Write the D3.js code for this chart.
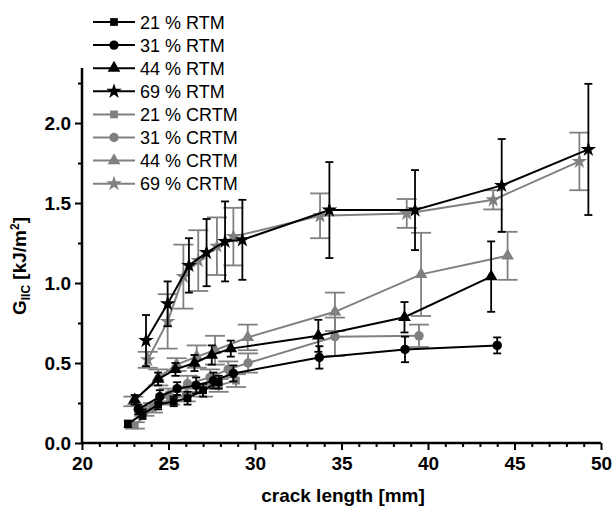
<!DOCTYPE html>
<html>
<head>
<meta charset="utf-8">
<script src="https://cdn.jsdelivr.net/npm/d3@7"></script>
<style>
  body { margin: 0; background: #fff; }
  svg { display: block; font-family: "Liberation Sans", Arial, sans-serif; }
</style>
</head>
<body>
<div id="chart"></div>
<script>
// crack length [mm], G_IIC [kJ/m2], error (+/-)
const rtm21x = [22.65, 23.5, 24.4, 25.3, 26.1, 27.0, 27.9]
const rtm21y = [0.12, 0.18, 0.24, 0.26, 0.28, 0.33, 0.38]
const rtm21e = [0.02, 0.03, 0.03, 0.03, 0.04, 0.04, 0.04]

const rtm31x = [23.25, 24.5, 25.5, 26.6, 27.6, 28.75, 33.72, 38.67, 44.0]
const rtm31y = [0.21, 0.29, 0.34, 0.36, 0.39, 0.435, 0.535, 0.585, 0.61]
const rtm31e = [0.03, 0.04, 0.04, 0.05, 0.05, 0.05, 0.07, 0.08, 0.05]

const rtm44x = [23.05, 24.4, 25.4, 26.5, 27.5, 28.6, 33.66, 38.64, 43.65]
const rtm44y = [0.27, 0.40, 0.46, 0.50, 0.55, 0.59, 0.67, 0.786, 1.04]
const rtm44e = [0.03, 0.04, 0.04, 0.05, 0.06, 0.05, 0.10, 0.095, 0.22]

const rtm69x = [23.7, 24.95, 26.18, 27.2, 28.27, 29.27, 34.3, 39.25, 44.26, 49.27]
const rtm69y = [0.64, 0.87, 1.11, 1.19, 1.26, 1.27, 1.456, 1.456, 1.61, 1.835]
const rtm69e = [0.16, 0.14, 0.17, 0.21, 0.25, 0.25, 0.30, 0.25, 0.29, 0.41]

const crtm21x = [23.05, 24.1, 25.1, 26.0, 27.0, 27.9, 28.9]
const crtm21y = [0.11, 0.22, 0.27, 0.30, 0.33, 0.36, 0.39]
const crtm21e = [0.02, 0.03, 0.03, 0.04, 0.04, 0.04, 0.04]

const crtm31x = [23.6, 25.0, 26.1, 27.4, 28.45, 29.6, 34.62, 39.48]
const crtm31y = [0.20, 0.30, 0.37, 0.41, 0.46, 0.50, 0.664, 0.67]
const crtm31e = [0.03, 0.04, 0.05, 0.05, 0.05, 0.06, 0.12, 0.07]

const crtm44x = [22.97, 24.41, 25.47, 26.63, 27.69, 29.58, 34.62, 39.6, 44.6]
const crtm44y = [0.26, 0.41, 0.49, 0.54, 0.58, 0.66, 0.82, 1.054, 1.17]
const crtm44e = [0.03, 0.05, 0.04, 0.07, 0.09, 0.08, 0.12, 0.26, 0.15]

const crtm69x = [23.8, 24.95, 25.86, 26.72, 27.8, 28.75, 33.76, 38.77, 43.77, 48.75]
const crtm69y = [0.52, 0.76, 1.04, 1.14, 1.23, 1.29, 1.42, 1.435, 1.52, 1.76]
const crtm69e = [0.05, 0.17, 0.20, 0.19, 0.18, 0.18, 0.14, 0.09, 0.06, 0.18]

const xTicks = [20, 25, 30, 35, 40, 45, 50]
const yTicks = [0.0, 0.5, 1.0, 1.5, 2.0]

const black = '#000000'
const grey = '#808080'

// legend order
const series = [
    {name: '21 % RTM', x: rtm21x, y: rtm21y, e: rtm21e, color: black, sym: d3.symbolSquare},
    {name: '31 % RTM', x: rtm31x, y: rtm31y, e: rtm31e, color: black, sym: d3.symbolCircle},
    {name: '44 % RTM', x: rtm44x, y: rtm44y, e: rtm44e, color: black, sym: d3.symbolTriangle},
    {name: '69 % RTM', x: rtm69x, y: rtm69y, e: rtm69e, color: black, sym: d3.symbolStar},
    {name: '21 % CRTM', x: crtm21x, y: crtm21y, e: crtm21e, color: grey, sym: d3.symbolSquare},
    {name: '31 % CRTM', x: crtm31x, y: crtm31y, e: crtm31e, color: grey, sym: d3.symbolCircle},
    {name: '44 % CRTM', x: crtm44x, y: crtm44y, e: crtm44e, color: grey, sym: d3.symbolTriangle},
    {name: '69 % CRTM', x: crtm69x, y: crtm69y, e: crtm69e, color: grey, sym: d3.symbolStar}
]

const width = 613, height = 511
const x = d3.scaleLinear().domain([20, 50]).range([82, 601])
const y = d3.scaleLinear().domain([0, 2.344]).range([443, 68])

const svg = d3.select('#chart').append('svg')
    .attr('width', width).attr('height', height)

function symbolPath(sym) {
    let s = 75
    if (sym === d3.symbolSquare) s = 60
    else if (sym === d3.symbolCircle) s = 70
    else if (sym === d3.symbolTriangle) s = 70
    return d3.symbol().type(sym).size(s)()
}

// draw CRTM (grey) first, RTM (black) on top
const drawOrder = series.slice(4).concat(series.slice(0, 4))
drawOrder.forEach(s => {
    const pts = s.x.map((v, i) => ({x: v, y: s.y[i], e: s.e[i]}))
    const g = svg.append('g')
    const cap = s.color === grey ? 10 : 4

    const eb = g.selectAll('g.err').data(pts).enter().append('g')
        .attr('stroke', s.color).attr('stroke-width', 1.8)
    eb.append('line')
        .attr('x1', d => x(d.x)).attr('x2', d => x(d.x))
        .attr('y1', d => y(d.y - d.e)).attr('y2', d => y(d.y + d.e))
    eb.append('line')
        .attr('x1', d => x(d.x) - cap).attr('x2', d => x(d.x) + cap)
        .attr('y1', d => y(d.y + d.e)).attr('y2', d => y(d.y + d.e))
    eb.append('line')
        .attr('x1', d => x(d.x) - cap).attr('x2', d => x(d.x) + cap)
        .attr('y1', d => y(d.y - d.e)).attr('y2', d => y(d.y - d.e))

    g.append('path').datum(pts)
        .attr('fill', 'none').attr('stroke', s.color).attr('stroke-width', 2)
        .attr('d', d3.line().x(d => x(d.x)).y(d => y(d.y)))

    g.selectAll('path.m').data(pts).enter().append('path')
        .attr('class', 'm')
        .attr('transform', d => `translate(${x(d.x)},${y(d.y)})`)
        .attr('d', symbolPath(s.sym))
        .attr('fill', s.color)
})

// axes
const xAxis = svg.append('g').attr('transform', `translate(0,${y(0)})`)
    .call(d3.axisBottom(x).tickValues(xTicks).tickSize(7).tickPadding(7).tickFormat(d3.format('d')))
svg.append('g').attr('transform', `translate(0,${y(0)})`)
    .call(d3.axisBottom(x).tickValues(d3.range(21, 50).filter(v => v % 5 !== 0)).tickSize(4).tickFormat(''))
    .call(g => g.select('.domain').remove())
const yAxis = svg.append('g').attr('transform', `translate(${x(20)},0)`)
    .call(d3.axisLeft(y).tickValues(yTicks).tickSize(7).tickPadding(4).tickFormat(d3.format('.1f')))
svg.append('g').attr('transform', `translate(${x(20)},0)`)
    .call(d3.axisLeft(y).tickValues([0.25, 0.75, 1.25, 1.75, 2.25]).tickSize(4).tickFormat(''))
    .call(g => g.select('.domain').remove())

svg.selectAll('.domain').attr('stroke', '#000').attr('stroke-width', 2.5)
svg.selectAll('.tick line').attr('stroke', '#000').attr('stroke-width', 2)
svg.selectAll('.tick text')
    .attr('font-family', '"Liberation Sans", Arial, sans-serif')
    .attr('font-size', 19).attr('font-weight', 'bold').attr('fill', '#000')
xAxis.select('.domain').attr('d', `M${x(20)},0H${x(50)}`)
yAxis.select('.domain').attr('d', `M0,${y(0)}V${y(2.344)}`)

// axis titles
svg.append('text')
    .attr('x', 343).attr('y', 502)
    .attr('text-anchor', 'middle')
    .attr('font-size', 19).attr('font-weight', 'bold')
    .text('crack length [mm]')

const yt = svg.append('text')
    .attr('transform', 'translate(26,266) rotate(-90)')
    .attr('text-anchor', 'middle')
    .attr('font-size', 19).attr('font-weight', 'bold')
yt.append('tspan').text('G')
yt.append('tspan').attr('font-size', 12).attr('dy', 4).text('IIC')
yt.append('tspan').attr('dy', -4).text(' [kJ/m')
yt.append('tspan').attr('font-size', 12).attr('dy', -7).text('2')
yt.append('tspan').attr('dy', 7).text(']')

// legend
const legend = svg.append('g')
series.forEach((s, i) => {
    const ly = 22 + i * 23.1
    const row = legend.append('g').attr('transform', `translate(0,${ly})`)
    row.append('line').attr('x1', 93).attr('x2', 135).attr('y1', 0).attr('y2', 0)
        .attr('stroke', s.color).attr('stroke-width', 2)
    row.append('path').attr('transform', 'translate(114,0)')
        .attr('d', symbolPath(s.sym)).attr('fill', s.color)
    row.append('text').attr('x', 140).attr('y', 6.5)
        .attr('font-size', 18).attr('fill', '#000')
        .text(s.name)
})
</script>
</body>
</html>
